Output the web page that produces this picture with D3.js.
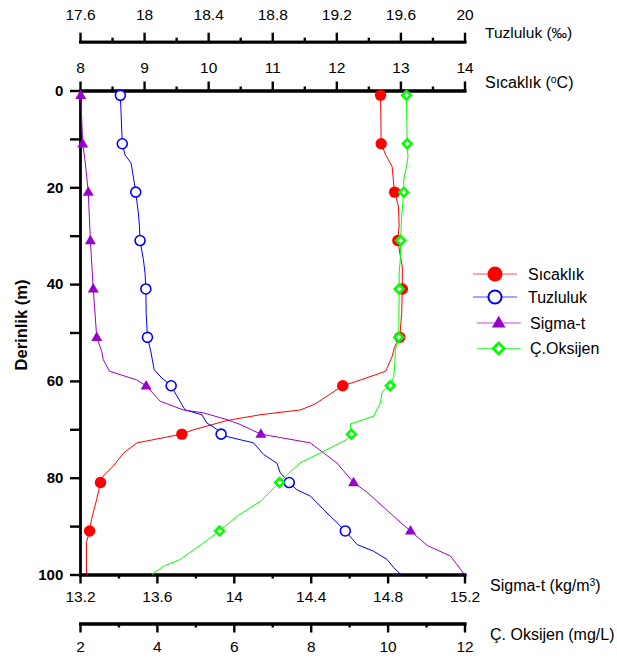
<!DOCTYPE html>
<html><head><meta charset="utf-8">
<script src="https://cdn.jsdelivr.net/npm/d3@7/dist/d3.min.js"></script>
<style>body{margin:0;background:#fff}svg{display:block}</style>
</head><body><svg id="c" width="617" height="659"></svg>
<script>
// ---------- data ----------
const markerDepths = [1, 11, 21, 31, 41, 51, 61, 71, 81, 91];

const tempDepth = [1, 11, 13.3, 15.7, 20, 21, 24, 28, 31, 34.3, 36.4, 41, 46, 51, 52.9, 55, 58, 59.8, 61, 63.2, 64.9, 66, 67, 68.2, 70.1, 71, 72.8, 74.9, 77.6, 79.7, 81, 84.5, 88.6, 91, 93.4, 100];
const tempVal   = [12.69, 12.70, 12.77, 12.87, 12.90, 12.91, 12.97, 12.98, 12.96, 13.00, 13.03, 13.03, 13.02, 12.99, 12.91, 12.87, 12.77, 12.38, 12.10, 11.85, 11.65, 11.44, 10.81, 10.29, 9.77, 9.59, 8.89, 8.68, 8.52, 8.36, 8.32, 8.26, 8.18, 8.15, 8.10, 8.10];

const salDepth = [1, 11, 13.3, 15, 17, 21, 25.3, 28, 31, 35, 37.7, 41, 46, 51, 53.9, 57.7, 59.4, 61, 62.5, 66, 67, 68.7, 70, 71, 71.5, 72.8, 75.2, 77, 79, 81, 82.5, 83.8, 87.3, 89.3, 91, 93.8, 95.2, 96.9, 98.6, 100];
const salVal   = [17.852, 17.864, 17.881, 17.919, 17.929, 17.948, 17.964, 17.971, 17.975, 17.996, 18.006, 18.011, 18.013, 18.021, 18.042, 18.063, 18.111, 18.169, 18.194, 18.256, 18.361, 18.392, 18.454, 18.481, 18.517, 18.683, 18.746, 18.829, 18.850, 18.906, 18.954, 19.038, 19.142, 19.204, 19.256, 19.329, 19.433, 19.517, 19.558, 19.604];

const sigmaDepth = [1, 11, 14.4, 21, 31, 41, 51, 53.9, 55.6, 58, 59.8, 61, 64.2, 66, 66.6, 68, 69, 71, 72.8, 77, 81, 83, 88.6, 91, 94, 96.2, 100];
const sigmaVal   = [13.204, 13.214, 13.226, 13.243, 13.254, 13.269, 13.287, 13.313, 13.321, 13.353, 13.495, 13.544, 13.617, 13.738, 13.842, 13.964, 14.033, 14.141, 14.398, 14.537, 14.623, 14.693, 14.849, 14.919, 15.006, 15.127, 15.2];

const oxyDepth = [1, 11, 13.7, 15.7, 18.5, 21, 26.7, 31, 35, 37.7, 41, 51, 53.6, 56.3, 59.1, 61, 62.2, 64.6, 66.6, 67.3, 68.9, 71, 72.1, 74.9, 76.9, 79.4, 81, 84.9, 88, 91, 93.5, 96.9, 98.3, 100];
const oxyVal   = [10.49, 10.51, 10.53, 10.49, 10.42, 10.42, 10.36, 10.34, 10.33, 10.30, 10.30, 10.29, 10.20, 10.19, 10.16, 10.07, 9.86, 9.81, 9.68, 9.64, 9.03, 9.06, 8.94, 8.25, 7.73, 7.38, 7.19, 6.69, 6.08, 5.63, 5.21, 4.60, 4.17, 3.87];

const salTicks   = [17.6, 18, 18.4, 18.8, 19.2, 19.6, 20];
const tempTicks  = [8, 9, 10, 11, 12, 13, 14];
const sigmaTicks = [13.2, 13.6, 14, 14.4, 14.8, 15.2];
const oxyTicks   = [2, 4, 6, 8, 10, 12];
const depthTicks = [0, 10, 20, 30, 40, 50, 60, 70, 80, 90, 100];
const depthLabels = [0, 20, 40, 60, 80, 100];

const seriesNames = ["Sıcaklık", "Tuzluluk", "Sigma-t", "Ç.Oksijen"];
const seriesColors = ["#ff0000", "#0000ff", "#9900cc", "#00ff00"];

// ---------- layout ----------
const svg = d3.select("#c");
const FONT = "Arial, 'Liberation Sans', sans-serif";
const X0 = 80, X1 = 464.5, Y0 = 90.5, Y1 = 574.5;

const y = d3.scaleLinear().domain([0, 100]).range([Y0, Y1]);
const xT = d3.scaleLinear().domain([8, 14]).range([X0, X1]);
const xS = d3.scaleLinear().domain([17.6, 20]).range([X0, X1]);
const xG = d3.scaleLinear().domain([13.2, 15.2]).range([X0, X1]);
const xO = d3.scaleLinear().domain([2, 12]).range([X0, X1]);

function minorsOf(t) {
  const m = [];
  for (let i = 0; i < t.length - 1; i++) m.push((t[i] + t[i + 1]) / 2);
  return m;
}

function styleAxis(g, fs) {
  g.selectAll("path.domain").attr("stroke", "#000").attr("stroke-width", 2.8).attr("stroke-linecap", "square");
  g.selectAll(".tick line").attr("stroke", "#000").attr("stroke-width", 2.4);
  g.selectAll(".tick text").attr("font-family", FONT).attr("font-size", fs).attr("fill", "#000");
}

function hAxis(scale, ypos, orient, majors, pad) {
  const g = svg.append("g").attr("transform", `translate(0,${ypos})`);
  const mk = orient === "top" ? d3.axisTop : d3.axisBottom;
  g.append("g").call(mk(scale).tickValues(minorsOf(majors)).tickSize(4).tickSizeOuter(0).tickFormat(""));
  g.append("g").call(mk(scale).tickValues(majors).tickSize(9).tickSizeOuter(0).tickPadding(pad).tickFormat(d => String(d)));
  styleAxis(g, "15.5px");
  return g;
}

hAxis(xS, 41.7, "top", salTicks, 12.7);
hAxis(xT, Y0, "top", tempTicks, 8.3);
hAxis(xG, Y1, "bottom", sigmaTicks, 7.4);
hAxis(xO, 623.5, "bottom", oxyTicks, 8.4);

// y axis
const gy = svg.append("g").attr("transform", `translate(${X0},0)`)
  .call(d3.axisLeft(y).tickValues(depthTicks).tickSize(10).tickSizeOuter(0).tickPadding(6.7)
    .tickFormat(d => depthLabels.includes(d) ? String(d) : ""));
styleAxis(gy, "15px");
gy.selectAll(".tick text").attr("font-weight", "bold");

// axis titles
function title(x, yb, parts, fs, weight) {
  const t = svg.append("text").attr("x", x).attr("y", yb).attr("font-family", FONT)
    .attr("font-size", fs).attr("fill", "#000");
  if (weight) t.attr("font-weight", weight);
  parts.forEach(p => {
    const s = t.append("tspan").text(p.t);
    if (p.sup) s.attr("font-size", "65%").attr("baseline-shift", "super");
  });
  return t;
}
title(485, 37.5, [{t: "Tuzluluk (‰)"}], "15.5px");
title(485, 87.5, [{t: "Sıcaklık ("}, {t: "o", sup: true}, {t: "C)"}], "16px");
title(490, 591, [{t: "Sigma-t (kg/m"}, {t: "3", sup: true}, {t: ")"}], "16px");
title(490, 639.5, [{t: "Ç. Oksijen (mg/L)"}], "16px");

svg.append("text").attr("transform", "translate(27,325) rotate(-90)")
  .attr("text-anchor", "middle").attr("font-family", FONT).attr("font-size", "16.5px")
  .attr("font-weight", "bold").text("Derinlik (m)");

// ---------- series ----------
function zipped(d, v) { return d.map((dd, i) => ({d: dd, v: v[i]})); }
const series = [
  {data: zipped(tempDepth, tempVal), x: xT},
  {data: zipped(salDepth, salVal), x: xS},
  {data: zipped(sigmaDepth, sigmaVal), x: xG},
  {data: zipped(oxyDepth, oxyVal), x: xO}
];

function drawMarker(g, k, cx, cy, big) {
  const c = seriesColors[k];
  if (k === 0) {
    g.append("circle").attr("cx", cx).attr("cy", cy).attr("r", big ? 7.5 : 5.7).attr("fill", c);
  } else if (k === 1) {
    g.append("circle").attr("cx", cx).attr("cy", cy).attr("r", big ? 6.6 : 5)
      .attr("fill", "#fff").attr("stroke", c).attr("stroke-width", big ? 2 : 1.6);
  } else if (k === 2) {
    g.append("path").attr("d", d3.symbol(d3.symbolTriangle, big ? 80 : 52)())
      .attr("transform", `translate(${cx},${cy + 0.5})`).attr("fill", c);
  } else {
    g.append("path").attr("d", d3.symbol(d3.symbolSquare, big ? 60 : 38)())
      .attr("transform", `translate(${cx},${cy}) rotate(45)`)
      .attr("fill", "#fff").attr("stroke", c).attr("stroke-width", big ? 2.8 : 2.6);
  }
}

series.forEach((s, k) => {
  const g = svg.append("g");
  const line = d3.line().x(p => s.x(p.v)).y(p => y(p.d)).curve(d3.curveLinear);
  g.append("path").datum(s.data).attr("d", line).attr("fill", "none")
    .attr("stroke", seriesColors[k]).attr("stroke-width", 1);
  s.data.filter(p => markerDepths.includes(p.d)).forEach(p => drawMarker(g, k, s.x(p.v), y(p.d), false));
});

// ---------- legend ----------
const legY = [274, 297, 323, 348.5];
const legX = [473, 473, 476.7, 476.7];
const leg = svg.append("g");
seriesNames.forEach((n, k) => {
  const x1 = legX[k], x2 = x1 + 44, cx = (x1 + x2) / 2;
  leg.append("line").attr("x1", x1).attr("x2", x2).attr("y1", legY[k]).attr("y2", legY[k])
    .attr("stroke", seriesColors[k]).attr("stroke-width", 1).attr("opacity", 0.7);
  drawMarker(leg, k, cx, legY[k], true);
  leg.append("text").attr("x", k < 2 ? 528 : 530).attr("y", legY[k] + 5.8)
    .attr("font-family", FONT).attr("font-size", "16px").attr("fill", "#000").text(n);
});
</script></body></html>
